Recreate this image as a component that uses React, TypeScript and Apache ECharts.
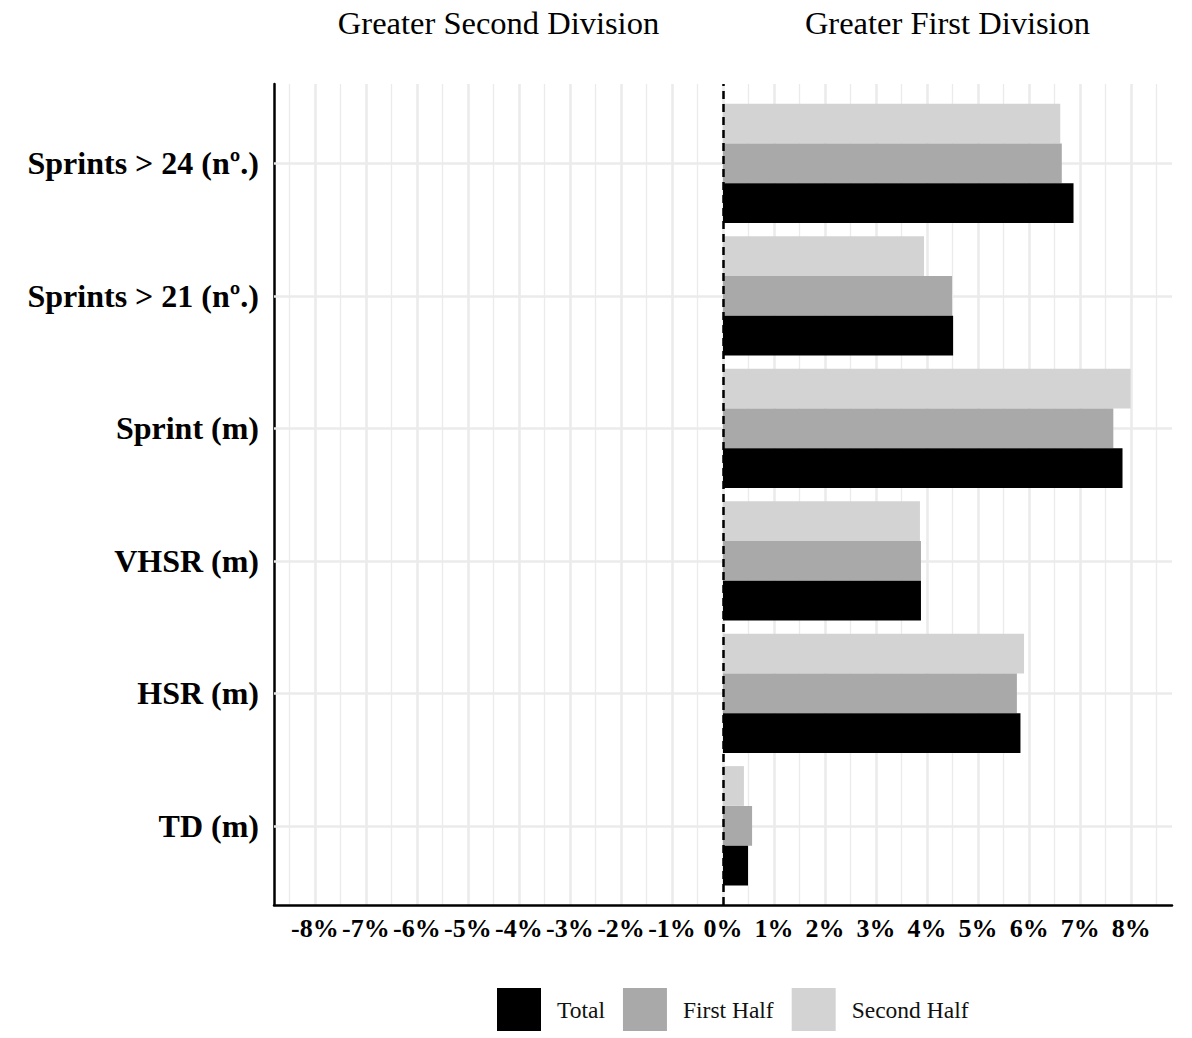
import { useEffect, useRef } from 'react';
import * as echarts from 'echarts';

// categories, bottom to top (ECharts puts the first category at the bottom)
const categories = ['TD (m)', 'HSR (m)', 'VHSR (m)', 'Sprint (m)', 'Sprints > 21 (nº.)', 'Sprints > 24 (nº.)'];
const seriesNames = ['Total', 'First Half', 'Second Half'];
const totalValues = [0.49, 5.83, 3.88, 7.83, 4.51, 6.87];
const firstHalfValues = [0.57, 5.76, 3.88, 7.65, 4.49, 6.64];
const secondHalfValues = [0.41, 5.9, 3.86, 7.99, 3.94, 6.61];
const headerLabels = ['Greater Second Division', 'Greater First Division'];

const SERIF = '"Liberation Serif", "Times New Roman", serif';
const COLORS = ['#000000', '#a9a9a9', '#d3d3d3'];
const GRID_COLOR = '#ebebeb';

// plot frame (pixels) and x limits
const PLOT_LEFT = 274;
const PLOT_RIGHT = 1172;
const PLOT_TOP = 84;
const PLOT_BOTTOM = 905;
const X_LIM = 8.8;
const BAND_PAD = 13; // ggplot discrete expansion, extra space above/below the bands

export default function App() {
  const chartRef = useRef<HTMLDivElement>(null);

  useEffect(() => {
    if (!chartRef.current) return;
    document.body.style.margin = '0';

    const chart = echarts.init(chartRef.current, undefined, { renderer: 'svg' });

    const unit = (PLOT_RIGHT - PLOT_LEFT) / (2 * X_LIM);
    const zeroX = PLOT_LEFT + X_LIM * unit;
    const plotHeight = PLOT_BOTTOM - PLOT_TOP;

    // grid that spans [-lim, lim] in data units
    const gridFor = (lim: number, top: number, height: number) => ({
      left: zeroX - lim * unit,
      width: 2 * lim * unit,
      top,
      height,
    });

    const hidden = { show: false };

    const barBase = {
      type: 'bar' as const,
      xAxisIndex: 3,
      yAxisIndex: 3,
      barCategoryGap: '10%',
      barGap: '0%',
      z: 2,
    };

    const option: echarts.EChartsOption = {
      animation: false,
      backgroundColor: '#ffffff',
      textStyle: { fontFamily: SERIF },
      grid: [
        gridFor(X_LIM, PLOT_TOP, plotHeight), // 0: frame, axis lines, zero line
        gridFor(8, PLOT_TOP, plotHeight), // 1: major grid lines + labels
        gridFor(8.5, PLOT_TOP, plotHeight), // 2: minor grid lines
        gridFor(X_LIM, PLOT_TOP + BAND_PAD, plotHeight - 2 * BAND_PAD), // 3: bars
      ],
      xAxis: [
        {
          gridIndex: 0,
          type: 'value',
          min: -X_LIM,
          max: X_LIM,
          axisLine: { show: true, onZero: false, lineStyle: { color: '#000', width: 2.5 } },
          axisTick: hidden,
          axisLabel: hidden,
          splitLine: hidden,
        },
        {
          gridIndex: 1,
          type: 'value',
          min: -8,
          max: 8,
          interval: 1,
          axisLine: hidden,
          axisTick: hidden,
          axisLabel: {
            formatter: (v: number) => `${v}%`,
            fontFamily: SERIF,
            fontSize: 26,
            fontWeight: 'bold',
            color: '#000',
            margin: 10,
          },
          splitLine: { show: true, lineStyle: { color: GRID_COLOR, width: 2.5 } },
          z: 0,
        },
        {
          gridIndex: 2,
          type: 'value',
          min: -8.5,
          max: 8.5,
          interval: 0.5,
          axisLine: hidden,
          axisTick: hidden,
          axisLabel: hidden,
          splitLine: { show: true, lineStyle: { color: GRID_COLOR, width: 1.3 } },
          z: 0,
        },
        {
          gridIndex: 3,
          type: 'value',
          min: -X_LIM,
          max: X_LIM,
          axisLine: hidden,
          axisTick: hidden,
          axisLabel: hidden,
          splitLine: hidden,
        },
      ],
      yAxis: [
        {
          gridIndex: 0,
          type: 'value',
          min: 0,
          max: 1,
          axisLine: { show: true, onZero: false, lineStyle: { color: '#000', width: 2.5 } },
          axisTick: hidden,
          axisLabel: hidden,
          splitLine: hidden,
        },
        { gridIndex: 1, type: 'value', min: 0, max: 1, show: false },
        { gridIndex: 2, type: 'value', min: 0, max: 1, show: false },
        {
          gridIndex: 3,
          type: 'category',
          data: categories,
          axisLine: hidden,
          axisTick: hidden,
          splitLine: hidden,
          axisLabel: {
            fontFamily: SERIF,
            fontSize: 32,
            fontWeight: 'bold',
            color: '#000',
            margin: 15,
          },
        },
      ],
      legend: {
        data: seriesNames,
        left: 497,
        top: 988,
        padding: 0,
        icon: 'rect',
        itemWidth: 44,
        itemHeight: 43,
        itemGap: 18,
        textStyle: {
          fontFamily: SERIF,
          fontSize: 23.5,
          color: '#111',
          padding: [0, 0, 0, 11],
        },
      },
      graphic: headerLabels.map((text, i) => ({
        type: 'text',
        x: zeroX + (i === 0 ? -1 : 1) * (X_LIM / 2) * unit,
        y: 23,
        style: {
          text,
          fontFamily: SERIF,
          fontSize: 32.5,
          fill: '#000',
          align: 'center',
          verticalAlign: 'middle',
        },
      })),
      // horizontal bars: first series sits on top of each group
      series: [
        {
          ...barBase,
          name: 'Second Half',
          data: secondHalfValues,
          itemStyle: { color: COLORS[2] },
        },
        {
          ...barBase,
          name: 'First Half',
          data: firstHalfValues,
          itemStyle: { color: COLORS[1] },
          // middle bar of each group sits on the category centre
          markLine: {
            silent: true,
            symbol: 'none',
            z: 1,
            label: { show: false },
            lineStyle: { color: GRID_COLOR, width: 2.5, type: 'solid' },
            data: categories.map((c) => ({ yAxis: c })),
          },
        },
        {
          ...barBase,
          name: 'Total',
          data: totalValues,
          itemStyle: { color: COLORS[0] },
        },
        {
          // carrier for the dashed zero line across the whole panel
          name: 'zero',
          type: 'scatter',
          xAxisIndex: 0,
          yAxisIndex: 0,
          data: [],
          markLine: {
            silent: true,
            symbol: 'none',
            z: 10,
            label: { show: false },
            lineStyle: { color: '#000', width: 2.5, type: [8, 5] },
            data: [{ xAxis: 0 }],
          },
        },
      ],
    };

    chart.setOption(option);

    return () => {
      chart.dispose();
    };
  }, []);

  return <div ref={chartRef} style={{ width: 1192, height: 1038 }} />;
}
